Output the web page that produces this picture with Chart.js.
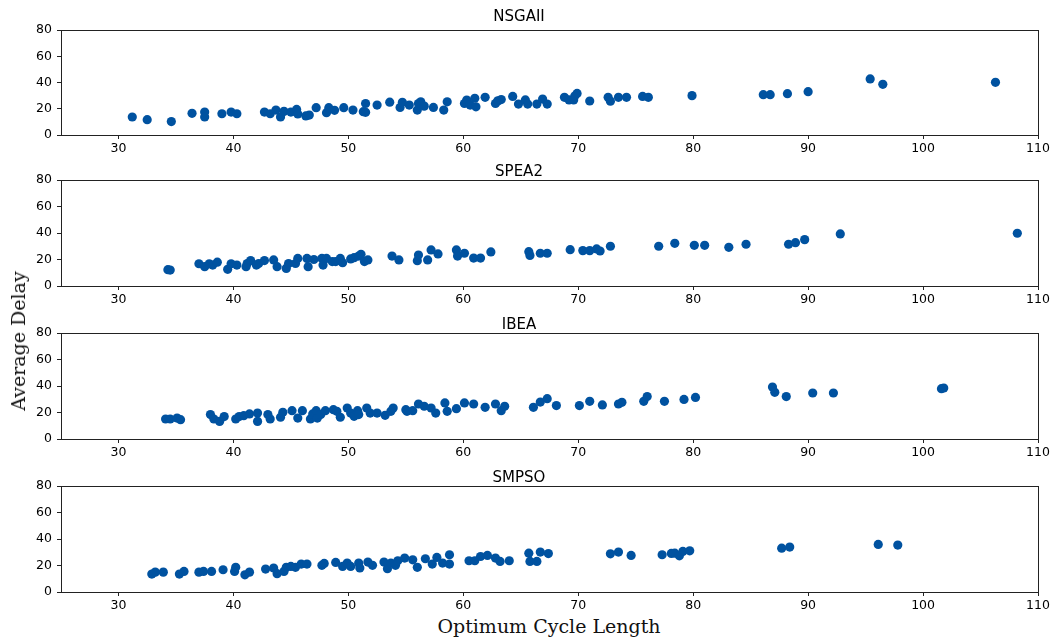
<!DOCTYPE html>
<html>
<head>
<meta charset="utf-8">
<script src="https://cdn.jsdelivr.net/npm/chart.js@4.4.0/dist/chart.umd.min.js"></script>
<style>
  html, body { margin: 0; padding: 0; background: #fff; }
  body { width: 1055px; height: 641px; position: relative; overflow: hidden; }
  canvas { position: absolute; left: 0; }
  .lbl { position: absolute; font-family: "DejaVu Serif", serif; font-size: 19px; color: #111; white-space: nowrap; }
</style>
</head>
<body>
<canvas id="c0" width="1055" height="155"></canvas>
<canvas id="c1" width="1055" height="156"></canvas>
<canvas id="c2" width="1055" height="156"></canvas>
<canvas id="c3" width="1055" height="156"></canvas>
<div class="lbl" id="ylab">Average Delay</div>
<div class="lbl" id="xlab">Optimum Cycle Length</div>
<script>
// ---- data ----
const titles = ["NSGAII", "SPEA2", "IBEA", "SMPSO"];
const xTickLabels = [30, 40, 50, 60, 70, 80, 90, 100, 110];
const yTickLabels = [0, 20, 40, 60, 80];

const nsgaiiX = [31.2,32.5,34.6,36.4,37.5,37.5,39.0,39.8,40.3,42.7,43.2,43.7,44.1,44.4,45.0,45.5,45.6,46.3,46.6,47.2,48.1,48.3,48.8,49.6,50.4,51.3,51.5,51.5,52.5,53.6,54.5,54.7,55.3,56.0,56.1,56.3,56.6,57.4,58.3,58.6,60.1,60.3,60.6,61.0,61.1,61.9,62.8,63.0,63.3,64.3,64.8,65.4,65.6,66.4,66.9,67.3,68.8,69.2,69.6,69.7,69.9,71.0,72.6,72.8,73.5,74.2,75.6,76.1,79.9,86.1,86.7,88.2,90.0,95.4,96.5,106.3];
const nsgaiiY = [13.7,11.7,10.2,16.5,17.5,13.7,16.2,17.5,16.2,17.5,16.2,19.0,13.7,18.0,17.5,19.5,16.0,14.5,15.2,20.8,17.0,20.8,18.8,20.8,19.0,17.8,24.0,17.3,22.8,25.0,21.0,24.9,22.8,19.0,24.0,25.3,22.0,21.0,19.0,25.3,24.0,26.6,22.8,28.0,21.5,28.7,24.0,26.0,27.0,29.4,23.6,26.7,23.6,23.6,27.4,23.6,28.7,26.7,26.7,29.7,31.7,25.9,28.7,25.7,28.7,28.7,29.4,28.7,30.0,30.7,30.7,31.5,33.0,42.7,38.6,40.1];

const spea2X = [34.3,34.5,37.0,37.5,37.9,38.2,38.6,39.5,39.8,40.3,41.1,41.2,41.5,42.0,42.2,42.7,43.5,43.8,44.6,44.8,45.4,45.6,46.4,46.5,47.0,47.7,47.8,48.1,48.6,48.9,49.3,49.5,50.2,50.5,50.9,51.1,51.4,51.7,53.8,54.4,56.0,56.1,56.9,57.2,57.8,59.4,59.5,60.1,60.9,61.5,62.4,65.7,65.8,66.7,67.3,69.3,70.4,71.0,71.6,71.9,72.8,77.0,78.4,80.1,81.0,83.1,84.6,88.3,88.9,89.7,92.8,108.2];
const spea2Y = [12.3,12.0,16.8,14.6,16.8,15.8,18.0,12.6,16.8,15.8,14.6,17.0,19.2,15.8,17.0,19.2,19.7,14.6,13.3,17.0,17.0,20.8,20.8,14.6,20.0,20.8,15.8,20.8,18.4,18.4,20.8,17.6,20.4,21.4,22.6,23.9,18.4,19.7,22.6,19.7,19.1,23.4,19.7,27.2,24.2,27.2,22.6,24.7,21.1,21.1,25.7,25.9,23.1,24.7,24.7,27.4,26.7,26.7,28.0,26.4,30.0,30.0,32.2,30.7,30.7,29.2,31.5,31.5,32.7,35.0,39.3,39.8];

const ibeaX = [34.1,34.5,35.1,35.4,38.0,38.3,38.8,39.2,40.2,40.5,40.9,41.4,42.1,42.1,43.0,43.2,44.1,44.3,45.1,45.6,46.0,46.7,46.9,47.2,47.3,47.6,48.0,48.7,49.0,49.3,49.9,50.2,50.5,50.8,50.9,51.6,51.9,52.5,53.2,53.7,53.9,55.0,55.1,55.6,56.1,56.6,57.2,57.6,58.4,58.6,59.4,60.1,60.9,61.9,62.8,63.3,63.6,66.1,66.7,67.3,68.1,70.1,71.0,72.1,73.5,73.8,75.7,76.0,77.5,79.2,80.2,86.9,87.1,88.1,90.4,92.2,101.6,101.8];
const ibeaY = [15.1,15.1,15.8,14.6,18.4,15.1,13.3,16.9,15.1,16.9,17.6,18.9,19.6,13.3,18.4,15.1,16.4,20.1,21.4,15.8,21.4,15.1,18.9,21.4,15.8,18.4,21.4,22.1,20.9,16.4,23.4,19.6,17.1,21.4,18.4,23.4,19.6,19.6,17.9,20.9,23.4,22.1,20.9,21.4,26.4,24.7,23.4,19.6,27.2,20.9,22.9,27.2,26.4,23.9,26.4,21.4,24.7,23.9,27.9,30.4,25.2,25.2,28.4,25.7,26.4,27.7,28.4,32.0,28.4,29.9,31.4,39.2,35.2,32.0,34.7,34.7,38.0,38.5];

const smpsoX = [32.9,33.2,33.9,35.3,35.7,37.0,37.4,38.1,39.1,40.1,40.2,41.0,41.4,42.8,43.5,43.8,44.4,44.6,45.0,45.4,45.9,46.4,47.7,47.9,48.9,49.5,49.9,50.2,50.9,51.0,51.7,52.1,53.1,53.4,53.7,54.1,54.3,54.9,55.6,56.0,56.7,57.3,57.7,58.2,58.8,58.8,60.5,61.0,61.5,62.1,62.8,63.2,64.0,65.7,65.8,66.4,66.7,67.4,72.8,73.5,74.6,77.3,78.1,78.4,78.8,79.1,79.7,87.7,88.4,96.1,97.8];
const smpsoY = [13.5,15.0,15.0,13.5,15.5,15.0,15.5,15.5,16.8,15.5,18.6,13.0,15.0,17.3,18.1,13.8,15.5,18.6,19.3,18.6,21.1,21.1,20.1,21.6,22.3,19.3,21.8,19.3,21.8,18.1,22.6,20.1,22.6,17.6,21.8,20.1,23.6,25.6,24.3,18.6,25.1,21.1,26.1,21.8,28.1,21.1,23.6,23.6,26.8,27.6,25.6,23.1,23.6,29.3,23.1,23.1,30.1,29.0,28.8,30.1,27.6,28.1,29.1,29.3,27.3,30.6,31.1,33.1,33.9,35.9,35.4];

const seriesX = [nsgaiiX, spea2X, ibeaX, smpsoX];
const seriesY = [nsgaiiY, spea2Y, ibeaY, smpsoY];

// ---- layout ----
const plotTops = [30, 180, 333, 486];
const plotBottoms = [135, 286, 439, 592];
const titlePadTop = [9.8, 14.3, 14.3, 14.3];
const PLOT_LEFT = 61, PLOT_RIGHT = 1038, W = 1055;
const TITLE_SPACE = 30, XAXIS_SPACE = 21, TITLE_FONT = 15;
const DOT = '#0052A0';

const framePlugin = {
  id: 'frame',
  afterDraw(chart) {
    const a = chart.chartArea, ctx = chart.ctx;
    ctx.save();
    ctx.strokeStyle = '#222';
    ctx.lineWidth = 1;
    ctx.strokeRect(Math.round(a.left) + 0.5, Math.round(a.top) + 0.5,
                   Math.round(a.right - a.left), Math.round(a.bottom - a.top));
    ctx.restore();
  }
};

for (let i = 0; i < 4; i++) {
  const cv = document.getElementById('c' + i);
  const h = (plotBottoms[i] - plotTops[i]) + TITLE_SPACE + XAXIS_SPACE;
  cv.width = W; cv.height = h;
  cv.style.width = W + 'px'; cv.style.height = h + 'px';
  cv.style.top = (plotTops[i] - TITLE_SPACE) + 'px';
  const pts = seriesX[i].map((x, k) => ({ x: x, y: seriesY[i][k] }));
  const pt = titlePadTop[i];
  new Chart(cv, {
    type: 'scatter',
    data: { datasets: [{ data: pts, backgroundColor: DOT, borderWidth: 0, pointRadius: 4.6, pointHoverRadius: 4.6 }] },
    options: {
      responsive: false, animation: false, events: [],
      devicePixelRatio: 1,
      layout: { padding: { left: 0, right: W - PLOT_RIGHT, top: 0, bottom: 0 } },
      plugins: {
        legend: { display: false }, tooltip: { enabled: false },
        title: { display: true, text: titles[i], color: '#000',
                 font: { family: 'DejaVu Sans', size: TITLE_FONT, weight: 'normal', lineHeight: 1.0 },
                 padding: { top: pt, bottom: TITLE_SPACE - TITLE_FONT - pt } }
      },
      scales: {
        x: {
          type: 'linear', min: 25, max: 110,
          afterFit(s) { s.height = XAXIS_SPACE; },
          afterBuildTicks(s) { s.ticks = xTickLabels.map(v => ({ value: v })); },
          grid: { drawOnChartArea: false, drawTicks: true, tickLength: 4, color: '#222' },
          border: { display: true, color: '#222' },
          ticks: { color: '#000', padding: 2, maxRotation: 0, autoSkip: false,
                   font: { family: 'DejaVu Sans', size: 12.5 } }
        },
        y: {
          type: 'linear', min: 0, max: 80,
          afterFit(s) { s.width = PLOT_LEFT; },
          afterBuildTicks(s) { s.ticks = yTickLabels.map(v => ({ value: v })); },
          grid: { drawOnChartArea: false, drawTicks: true, tickLength: 4, color: '#222' },
          border: { display: true, color: '#222' },
          ticks: { color: '#000', padding: 5, autoSkip: false,
                   font: { family: 'DejaVu Sans', size: 12.5 } }
        }
      }
    },
    plugins: [framePlugin]
  });
}

// common axis labels
const yl = document.getElementById('ylab');
yl.style.left = '18px'; yl.style.top = '341px';
yl.style.transform = 'translate(-50%, -50%) rotate(-90deg)';
const xl = document.getElementById('xlab');
xl.style.left = '549px'; xl.style.top = '626px';
xl.style.transform = 'translate(-50%, -50%)';
</script>
</body>
</html>
